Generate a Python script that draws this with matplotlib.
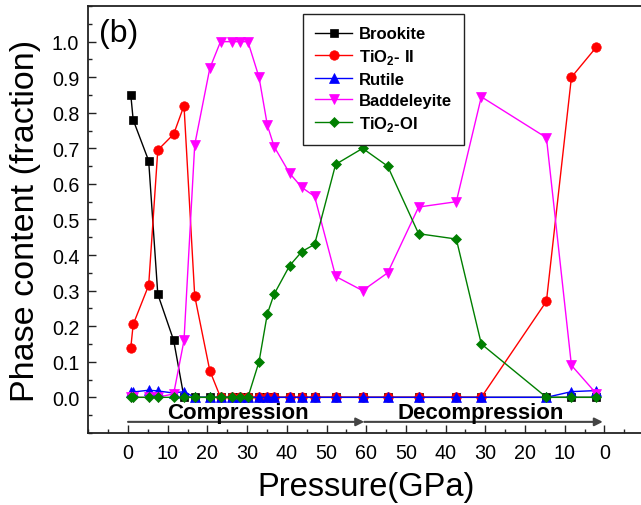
import numpy as np
import matplotlib
matplotlib.use('Agg')
import matplotlib.pyplot as plt
from matplotlib.ticker import MultipleLocator, FixedLocator, FixedFormatter, FormatStrFormatter

plt.rcParams['font.family'] = 'Liberation Sans'
plt.rcParams['mathtext.fontset'] = 'custom'
plt.rcParams['mathtext.rm'] = 'Liberation Sans'
plt.rcParams['mathtext.bf'] = 'Liberation Sans:bold'

# pressures (GPa) on the way up, then on the way down
p_comp = [0.7, 1.3, 5.2, 7.5, 11.5, 14.1, 16.8, 20.6, 23.3, 26.1, 28.2, 30.2,
          33.0, 35.1, 36.8, 40.7, 43.8, 47.0, 52.3, 59.1]
p_decomp = [54.6, 46.8, 37.3, 31.0, 14.6, 8.3, 2.0]

# phase fractions, compression values first then decompression
brookite = [0.85, 0.78, 0.665, 0.29, 0.16, 0, 0, 0, 0, 0, 0, 0,
            0, 0, 0, 0, 0, 0, 0, 0,
            0, 0, 0, 0, 0, 0, 0]
tio2_ii = [0.14, 0.205, 0.315, 0.695, 0.74, 0.82, 0.285, 0.075, 0, 0, 0, 0,
           0, 0, 0, 0, 0, 0, 0, 0,
           0, 0, 0, 0, 0.27, 0.90, 0.985]
rutile = [0.015, 0.015, 0.02, 0.018, 0.012, 0.016, 0, 0, 0, 0, 0, 0,
          0, 0, 0, 0, 0, 0, 0, 0,
          0, 0, 0, 0, 0, 0.016, 0.019]
baddeleyite = [0, 0, 0, 0, 0.01, 0.16, 0.71, 0.925, 1.0, 1.0, 1.0, 1.0,
               0.90, 0.765, 0.705, 0.63, 0.59, 0.565, 0.34, 0.30,
               0.35, 0.535, 0.55, 0.845, 0.73, 0.09, 0.01]
tio2_oi = [0, 0, 0, 0, 0, 0, 0, 0, 0, 0, 0, 0,
           0.10, 0.235, 0.29, 0.37, 0.41, 0.43, 0.655, 0.70,
           0.65, 0.46, 0.445, 0.15, 0, 0, 0]

tick_labels = ['0', '10', '20', '30', '40', '50', '60',
               '50', '40', '30', '20', '10', '0']

# unfold the pressure cycle onto one axis: going down runs from 60 to 120
x = np.concatenate([p_comp, 120 - np.array(p_decomp)])

fig = plt.figure(figsize=(6.41, 5.06), dpi=100)
ax = fig.add_axes([0.1378, 0.1425, 0.867, 0.8435])

series = [
    (brookite, 'black', 's', 6, 'Brookite'),
    (tio2_ii, 'red', 'o', 6.8, r'TiO$_\mathbf{2}$- II'),
    (rutile, 'blue', '^', 7, 'Rutile'),
    (baddeleyite, 'magenta', 'v', 7, 'Baddeleyite'),
    (tio2_oi, '#007f00', 'D', 5.2, r'TiO$_\mathbf{2}$-OI'),
]
for y, c, m, ms, lab in series:
    ax.plot(x, y, color=c, marker=m, markersize=ms, lw=1.0, label=lab,
            markeredgewidth=0.5)

ax.set_xlim(-10, 130)
ax.set_ylim(-0.1, 1.1)

ax.xaxis.set_major_locator(FixedLocator(np.arange(0, 121, 10)))
ax.xaxis.set_major_formatter(FixedFormatter(tick_labels))
ax.xaxis.set_minor_locator(MultipleLocator(5))
ax.yaxis.set_major_locator(FixedLocator(np.arange(0, 1.01, 0.1)))
ax.yaxis.set_major_formatter(FormatStrFormatter('%.1f'))
ax.yaxis.set_minor_locator(MultipleLocator(0.05))

ax.tick_params(which='both', direction='in', top=False, right=False,
               labelsize=14.2, color='#222222', width=1.0)
ax.tick_params(which='major', length=6)
ax.tick_params(which='minor', length=3)
ax.tick_params(axis='x', pad=7.5)
ax.tick_params(axis='y', pad=6.5)
for s in ax.spines.values():
    s.set_linewidth(1.3)
    s.set_color('#222222')

ax.set_xlabel('Pressure(GPa)', fontsize=23.5, labelpad=6.5)
ax.set_ylabel('Phase content (fraction)', fontsize=24.5, labelpad=8)

ax.text(-7.4, 1.024, '(b)', fontsize=23, ha='left', va='center')

# compression / decompression arrows under the zero line
arr_y = -0.069
ax.annotate('', xy=(59.5, arr_y), xytext=(0, arr_y),
            arrowprops=dict(arrowstyle='-|>', color='#444444', lw=1.5,
                            mutation_scale=12, shrinkA=0, shrinkB=0))
ax.annotate('', xy=(119.6, arr_y), xytext=(59.5, arr_y),
            arrowprops=dict(arrowstyle='-|>', color='#444444', lw=1.5,
                            mutation_scale=12, shrinkA=0, shrinkB=0))
ax.text(27.7, -0.042, 'Compression', fontsize=16, fontweight='bold',
        ha='center', va='center')
ax.text(88.8, -0.042, 'Decompression', fontsize=16, fontweight='bold',
        ha='center', va='center')

leg = ax.legend(loc='upper left', bbox_to_anchor=(0.4722, 0.9704),
                bbox_transform=fig.transFigure, borderaxespad=0,
                fancybox=False, framealpha=1, edgecolor='#222222',
                prop={'weight': 'bold', 'size': 12}, handlelength=2.2,
                labelspacing=0.35, borderpad=0.75, handletextpad=0.4)
leg.get_frame().set_linewidth(1.0)

fig.savefig('out.png', dpi=100)
